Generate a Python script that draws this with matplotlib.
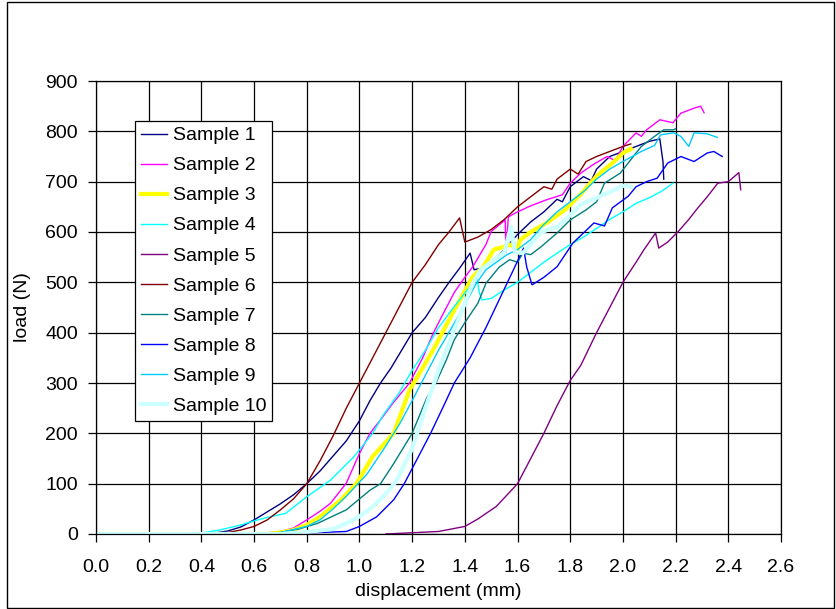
import numpy as np
import matplotlib
matplotlib.use("Agg")
import matplotlib.pyplot as plt
from matplotlib.patches import Rectangle

plt.rcParams['font.family'] = ['Liberation Sans', 'DejaVu Sans']

# displacement (mm) / load (N), one pair of lists per sample
s1_x = [0, 0.40, 0.45, 0.5, 0.55, 0.6, 0.65, 0.7, 0.75, 0.8, 0.85, 0.9, 0.95, 1.0, 1.04, 1.08, 1.12, 1.16, 1.2, 1.25,
        1.3, 1.34, 1.38, 1.42, 1.435, 1.48, 1.52, 1.55, 1.6, 1.65, 1.7, 1.75, 1.77, 1.8, 1.85, 1.88, 1.9, 1.95, 2.0,
        2.05, 2.1, 2.14, 2.152, 2.155]
s1_y = [0, 0, 2, 6, 14, 28, 44, 60, 78, 100, 125, 155, 185, 225, 265, 300, 330, 365, 400, 430,
        470, 500, 528, 558, 525, 530, 550, 565, 595, 620, 640, 665, 660, 690, 710, 702, 725, 750, 760,
        770, 780, 785, 740, 705]

s2_x = [0, 0.6, 0.7, 0.75, 0.8, 0.85, 0.89, 0.95, 1.0, 1.04, 1.08, 1.13, 1.19, 1.24, 1.28, 1.32, 1.36, 1.4, 1.43,
        1.48, 1.5, 1.553, 1.556, 1.565, 1.6, 1.65, 1.71, 1.77, 1.8, 1.84, 1.89, 1.94, 1.97, 2.0, 2.05, 2.07, 2.09,
        2.14, 2.19, 2.22, 2.27, 2.295, 2.308]
s2_y = [0, 0, 5, 12, 28, 45, 61, 101, 160, 200, 227, 262, 300, 350, 399, 440, 480, 510, 531,
        575, 601, 624, 560, 630, 640, 652, 664, 674, 697, 717, 735, 750, 742, 770, 797, 790, 803,
        823, 817, 836, 846, 850, 837]

s3_x = [0, 0.65, 0.7, 0.75, 0.8, 0.85, 0.93, 0.99, 1.05, 1.13, 1.19, 1.24, 1.28, 1.36, 1.43, 1.47, 1.51, 1.55,
        1.575, 1.6, 1.61, 1.65, 1.71, 1.78, 1.84, 1.9, 1.96, 2.0, 2.03]
s3_y = [0, 0, 3, 8, 18, 34, 68, 101, 154, 200, 286, 330, 366, 445, 511, 531, 565, 571,
        575, 565, 584, 600, 618, 644, 675, 711, 737, 757, 765]

s4_x = [0, 0.4, 0.47, 0.55, 0.6, 0.65, 0.72, 0.8, 0.89, 0.98, 1.05, 1.09, 1.15, 1.2, 1.25, 1.3, 1.36, 1.42, 1.445,
        1.455, 1.465, 1.5, 1.55, 1.6, 1.65, 1.7, 1.75, 1.8, 1.85, 1.9, 1.95, 2.0, 2.05, 2.1, 2.15, 2.19]
s4_y = [0, 2, 8, 18, 26, 33, 41, 74, 107, 154, 200, 236, 280, 325, 365, 410, 452, 492, 512,
        480, 465, 468, 485, 500, 520, 540, 558, 575, 590, 607, 625, 640, 657, 668, 682, 697]

s5_x = [1.1, 1.3, 1.4, 1.45, 1.52, 1.6, 1.65, 1.7, 1.75, 1.8, 1.84, 1.9, 1.95, 2.0, 2.05, 2.08, 2.124, 2.136,
        2.17, 2.21, 2.25, 2.28, 2.32, 2.36, 2.4, 2.44, 2.447]
s5_y = [0, 5, 15, 30, 55, 100, 150, 200, 255, 305, 335, 400, 450, 500, 540, 565, 598, 568,
        580, 601, 625, 645, 670, 697, 700, 718, 684]

s6_x = [0, 0.45, 0.5, 0.55, 0.6, 0.65, 0.7, 0.75, 0.8, 0.85, 0.9, 0.95, 1.0, 1.05, 1.1, 1.15, 1.2, 1.25, 1.3,
        1.34, 1.38, 1.40, 1.45, 1.5, 1.55, 1.6, 1.65, 1.7, 1.73, 1.75, 1.8, 1.83, 1.86, 1.9, 1.95, 2.0, 2.03]
s6_y = [0, 0, 3, 8, 15, 28, 48, 70, 100, 145, 195, 250, 300, 350, 400, 450, 500, 535, 575,
        600, 628, 580, 590, 605, 625, 650, 670, 690, 685, 705, 725, 715, 740, 750, 760, 770, 775]

s7_x = [0, 0.6, 0.7, 0.77, 0.84, 0.95, 1.04, 1.08, 1.13, 1.2, 1.255, 1.29, 1.33, 1.36, 1.4, 1.45, 1.48, 1.53,
        1.57, 1.6, 1.62, 1.65, 1.69, 1.75, 1.8, 1.86, 1.9, 1.93, 1.99, 2.05, 2.07, 2.12, 2.155, 2.19, 2.2]
s7_y = [0, 0, 3, 10, 21, 48, 87, 100, 140, 200, 270, 300, 346, 386, 420, 459, 498, 530,
        545, 540, 558, 555, 571, 598, 624, 644, 660, 697, 717, 757, 770, 790, 803, 803, 805]

s8_x = [0, 0.7, 0.95, 1.0, 1.065, 1.13, 1.17, 1.22, 1.27, 1.32, 1.36, 1.42, 1.48, 1.53, 1.58, 1.623, 1.635, 1.655,
        1.7, 1.75, 1.81, 1.89, 1.93, 1.96, 2.02, 2.05, 2.09, 2.13, 2.17, 2.22, 2.27, 2.32, 2.345, 2.377]
s8_y = [0, 0, 5, 15, 34, 68, 100, 150, 200, 255, 300, 350, 410, 465, 520, 568, 530, 495,
        510, 531, 578, 618, 612, 648, 671, 690, 700, 707, 737, 750, 740, 757, 760, 750]

s9_x = [0, 0.65, 0.7, 0.8, 0.85, 0.9, 0.95, 1.03, 1.1, 1.154, 1.2, 1.25, 1.3, 1.35, 1.4, 1.44, 1.48, 1.52, 1.56,
        1.6, 1.65, 1.7, 1.75, 1.8, 1.85, 1.9, 1.95, 2.0, 2.07, 2.12, 2.143, 2.193, 2.22, 2.25, 2.27, 2.32, 2.358]
s9_y = [0, 0, 3, 15, 28, 50, 75, 120, 175, 220, 265, 315, 365, 410, 455, 495, 525, 540, 555,
        565, 585, 615, 640, 660, 680, 705, 725, 740, 760, 772, 793, 797, 790, 770, 797, 795, 788]

s10_x = [0, 0.7, 0.8, 0.9, 0.95, 1.0, 1.05, 1.1, 1.14, 1.2, 1.25, 1.31, 1.38, 1.43, 1.46, 1.5, 1.55, 1.575,
         1.59, 1.62, 1.69, 1.75, 1.79, 1.84, 1.9, 1.97, 2.0, 2.03]
s10_y = [0, 0, 4, 10, 21, 35, 54, 80, 105, 170, 250, 340, 432, 498, 525, 540, 560, 610,
         560, 558, 600, 610, 628, 655, 668, 684, 692, 690]

names = ['Sample 1', 'Sample 2', 'Sample 3', 'Sample 4', 'Sample 5',
         'Sample 6', 'Sample 7', 'Sample 8', 'Sample 9', 'Sample 10']
xs = [s1_x, s2_x, s3_x, s4_x, s5_x, s6_x, s7_x, s8_x, s9_x, s10_x]
ys = [s1_y, s2_y, s3_y, s4_y, s5_y, s6_y, s7_y, s8_y, s9_y, s10_y]
colores = ['#000080', '#ff00ff', '#ffff00', '#00ffff', '#800080',
           '#800000', '#008080', '#0000ff', '#00ccff', '#ccffff']
anchos = [1, 1, 3, 1, 1, 1, 1, 1, 1, 3]

fig = plt.figure(figsize=(8.36, 6.09), dpi=100)
ax = fig.add_axes([96/836, 75/609, 685/836, 453/609])

for x, y, c, w, n in zip(xs, ys, colores, anchos, names):
    ax.plot(x, y, color=c, lw=w, label=n)

ax.set_xlim(0, 2.6)
ax.set_ylim(0, 900)
ax.set_xticks(np.arange(0, 2.61, 0.2))
ax.set_xticklabels(['%.1f' % v for v in np.arange(0, 2.61, 0.2)])
ax.set_yticks(range(0, 901, 100))
ax.grid(True, color='black', lw=0.9)
ax.set_axisbelow(True)
ax.tick_params(direction='out', length=6, width=0.9, labelsize=14)
ax.tick_params(axis='x', pad=12)
ax.tick_params(axis='y', pad=7)
for s in ax.spines.values():
    s.set_color('black')
    s.set_linewidth(0.9)

ax.set_xlabel('displacement (mm)', fontsize=14, labelpad=5)
ax.set_ylabel('load (N)', fontsize=14, labelpad=10)

leg = ax.legend(loc='upper left', bbox_to_anchor=(0.057, 0.912), borderaxespad=0,
                fontsize=14, fancybox=False, edgecolor='black', framealpha=1,
                handlelength=1.35, handletextpad=0.3, labelspacing=0.64, borderpad=0.3)
leg.get_frame().set_linewidth(0.9)

# borde exterior del grafico
fig.patches.append(Rectangle((7/836, 1/609), 827/836, 606/609, transform=fig.transFigure,
                             fill=False, edgecolor='black', lw=1))

fig.savefig('out.png', dpi=100)
